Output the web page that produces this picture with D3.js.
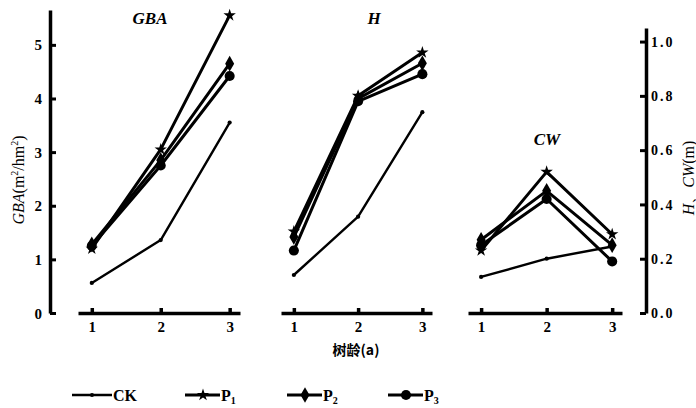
<!DOCTYPE html>
<html>
<head>
<meta charset="utf-8">
<script src="https://cdn.jsdelivr.net/npm/d3@7"></script>
<style>
    body { margin: 0; background: #fff; }
    svg text { font-family: "Liberation Serif", "Times New Roman", "DejaVu Serif", serif !important; font-weight: bold; fill: #000; }
    svg text.cjk { font-family: "Noto Sans CJK SC", sans-serif !important; }
</style>
</head>
<body>
<div id="chart"></div>
<script>
// tree age (a)
var ages = [1, 2, 3];
var seriesNames = ["CK", "P1", "P2", "P3"];

// GBA (m2/hm2), left axis
var gbaCK = [0.56, 1.36, 3.55];
var gbaP1 = [1.20, 3.05, 5.55];
var gbaP2 = [1.28, 2.85, 4.65];
var gbaP3 = [1.25, 2.75, 4.42];

// H (m), right axis
var hCK = [0.14, 0.355, 0.74];
var hP1 = [0.30, 0.80, 0.96];
var hP2 = [0.28, 0.79, 0.92];
var hP3 = [0.23, 0.78, 0.88];

// CW (m), right axis
var cwCK = [0.133, 0.20, 0.245];
var cwP1 = [0.23, 0.52, 0.29];
var cwP2 = [0.27, 0.45, 0.25];
var cwP3 = [0.25, 0.42, 0.19];

var leftTicks = [0, 1, 2, 3, 4, 5];
var rightTicks = [0, 0.2, 0.4, 0.6, 0.8, 1.0];

var svg = d3.select("#chart")
    .append("svg")
    .attr("width", 696)
    .attr("height", 408);

var baseY = 313;

var yL = d3.scaleLinear().domain([0, 5.65]).range([baseY, 10]);
var yR = d3.scaleLinear().domain([0, 1.05]).range([baseY, 28]);

// marker shapes per series
var markers = {
    CK: { type: d3.symbolCircle, size: 14 },
    P1: { type: d3.symbolStar, size: 48 },
    P2: { type: d3.symbolDiamond, size: 70 },
    P3: { type: d3.symbolCircle, size: 80 }
};
var widths = { CK: 2.4, P1: 3, P2: 3, P3: 3 };

var panels = [
    { title: "GBA", range: [78, 240], y: yL, data: [gbaCK, gbaP1, gbaP2, gbaP3], tx: 150, ty: 24 },
    { title: "H", range: [281, 432], y: yR, data: [hCK, hP1, hP2, hP3], tx: 374, ty: 24 },
    { title: "CW", range: [468, 622], y: yR, data: [cwCK, cwP1, cwP2, cwP3], tx: 547, ty: 145 }
];

// Left axis
var leftAxis = svg.append("g")
    .attr("transform", "translate(50,0)")
    .call(d3.axisLeft(yL).tickValues(leftTicks).tickSize(-6).tickSizeOuter(0).tickPadding(8)
        .tickFormat(d3.format("d")));
leftAxis.select(".domain").attr("stroke-width", 3.5);
leftAxis.selectAll(".tick line").attr("stroke-width", 3);
leftAxis.selectAll(".tick text").style("font-size", "15px").attr("dy", "0.34em");

// Right axis
var rightAxis = svg.append("g")
    .attr("transform", "translate(646,0)")
    .call(d3.axisRight(yR).tickValues(rightTicks).tickSize(-6).tickSizeOuter(0).tickPadding(5)
        .tickFormat(d3.format(".1f")));
rightAxis.select(".domain").attr("stroke-width", 3.5);
rightAxis.selectAll(".tick line").attr("stroke-width", 3);
rightAxis.selectAll(".tick text").style("font-size", "14px").style("letter-spacing", "2px").attr("dy", "0.34em");

// Axis labels
var leftLabel = svg.append("text")
    .attr("transform", "translate(24,180) rotate(-90)")
    .attr("text-anchor", "middle")
    .style("font-size", "16px")
    .style("font-weight", "normal");
leftLabel.append("tspan").style("font-style", "italic").text("GBA");
leftLabel.append("tspan").text("(m");
leftLabel.append("tspan").attr("dy", -6).style("font-size", "10px").text("2");
leftLabel.append("tspan").attr("dy", 6).text("/hm");
leftLabel.append("tspan").attr("dy", -6).style("font-size", "10px").text("2");
leftLabel.append("tspan").attr("dy", 6).text(")");

var rightLabel = svg.append("text")
    .attr("transform", "translate(694,178) rotate(-90)")
    .attr("text-anchor", "middle")
    .style("font-size", "16px")
    .style("font-weight", "normal");
rightLabel.append("tspan").style("font-style", "italic").text("H");
rightLabel.append("tspan").text("、");
rightLabel.append("tspan").style("font-style", "italic").text("CW");
rightLabel.append("tspan").text("(m)");

svg.append("text")
    .attr("class", "cjk")
    .attr("x", 356)
    .attr("y", 355)
    .attr("text-anchor", "middle")
    .style("font-size", "14px")
    .text("树龄(a)");

var line = function(x, y) {
    return d3.line()
        .x(function(d) { return x(d.age); })
        .y(function(d) { return y(d.value); });
};

panels.forEach(function(p) {
    var x = d3.scaleLinear().domain([0.8, 3.15]).range(p.range);

    var ax = svg.append("g")
        .attr("transform", "translate(0," + baseY + ")")
        .call(d3.axisBottom(x).tickValues(ages).tickSize(-5).tickSizeOuter(0).tickPadding(8)
            .tickFormat(d3.format("d")));
    ax.select(".domain").attr("stroke-width", 3.5);
    ax.selectAll(".tick line").attr("stroke-width", 3.5);
    ax.selectAll(".tick text").style("font-size", "15px");

    svg.append("text")
        .attr("x", p.tx)
        .attr("y", p.ty)
        .attr("text-anchor", "middle")
        .style("font-size", "17px")
        .style("font-style", "italic")
        .text(p.title);

    p.data.forEach(function(vals, i) {
        var name = seriesNames[i];
        var pts = ages.map(function(a, j) { return { age: a, value: vals[j] }; });
        svg.append("path")
            .datum(pts)
            .attr("fill", "none")
            .attr("stroke", "#000")
            .attr("stroke-width", widths[name])
            .attr("stroke-linejoin", "round")
            .attr("d", line(x, p.y));
        svg.selectAll(null)
            .data(pts)
            .enter()
            .append("path")
            .attr("transform", function(d) {
                return "translate(" + x(d.age) + "," + p.y(d.value) + ")";
            })
            .attr("d", d3.symbol().type(markers[name].type).size(markers[name].size))
            .attr("fill", "#000");
    });
});

// Legend
var legendX = [72, 185, 287, 388];
var legend = svg.selectAll("g.legend")
    .data(seriesNames)
    .enter()
    .append("g")
    .attr("class", "legend")
    .attr("transform", function(d, i) {
        return "translate(" + legendX[i] + ",395)";
    });

legend.append("line")
    .attr("x1", 0)
    .attr("x2", function(d) { return d == "CK" ? 40 : 35; })
    .attr("stroke", "#000")
    .attr("stroke-width", function(d) { return widths[d]; });

legend.append("path")
    .attr("transform", function(d) { return "translate(" + (d == "CK" ? 20 : 18) + ",0)"; })
    .attr("d", function(d) {
        return d3.symbol().type(markers[d].type).size(markers[d].size)();
    })
    .attr("fill", "#000");

var legendText = legend.append("text")
    .attr("x", function(d) { return d == "CK" ? 41 : 36; })
    .attr("y", 6)
    .style("font-size", "16px");
legendText.append("tspan").text(function(d) { return d.charAt(0); });
legendText.append("tspan")
    .style("font-size", function(d) { return d == "CK" ? "16px" : "10px"; })
    .attr("dy", function(d) { return d == "CK" ? 0 : 3; })
    .text(function(d) { return d.slice(1); });
</script>
</body>
</html>
